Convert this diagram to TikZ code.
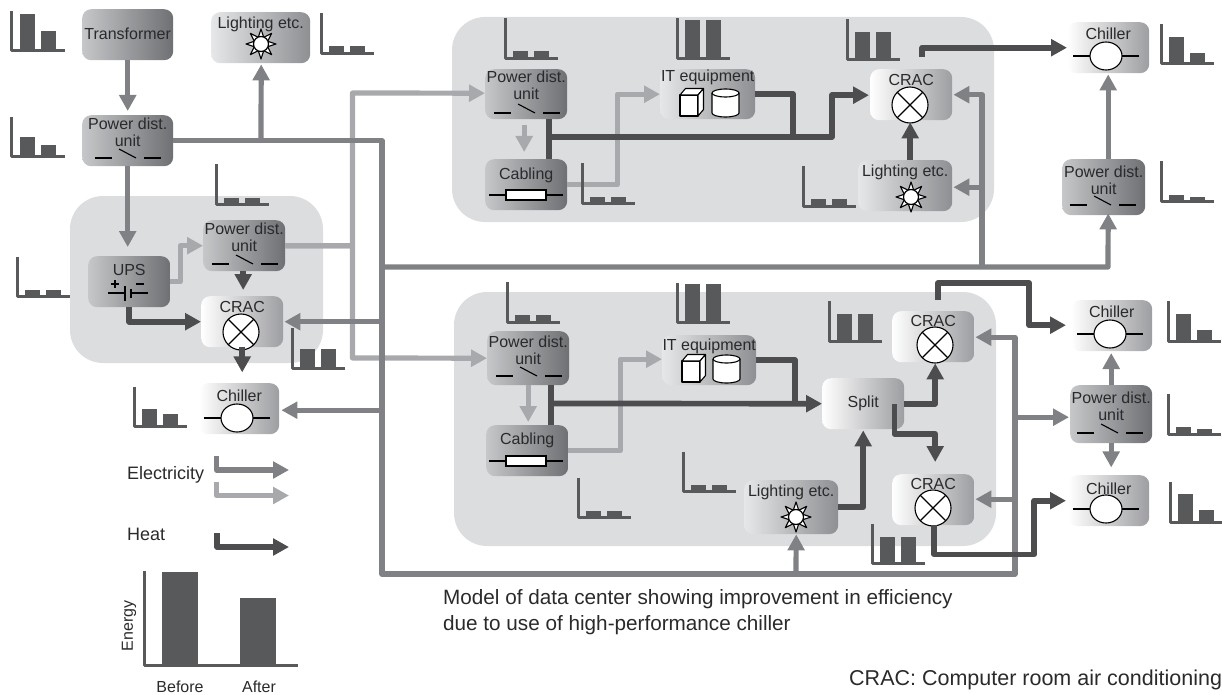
\documentclass[tikz,border=0pt]{standalone}
\usepackage{fontspec}
\setmainfont{Liberation Sans}
\usetikzlibrary{arrows.meta,calc,shapes.geometric}
\definecolor{elecc}{HTML}{808184}
\definecolor{lightc}{HTML}{A7A9AC}
\definecolor{heatc}{HTML}{4D4D4F}
\definecolor{barc}{HTML}{58595B}
\definecolor{groupc}{HTML}{DCDDDE}
\definecolor{txtc}{HTML}{2A2A2C}
\definecolor{dkL}{HTML}{C6C7C9}
\definecolor{dkR}{HTML}{6F7073}
\definecolor{whR}{HTML}{9D9EA1}
\definecolor{ltL}{HTML}{E6E7E8}
\definecolor{ltR}{HTML}{8E8F92}
\tikzset{
  tipp/.tip={Triangle[width=16.5pt,length=16pt]},
  wire/.style={line join=round},
  elec/.style={wire,line width=5.2pt,draw=elecc,-tipp},
  lite/.style={wire,line width=5.2pt,draw=lightc,-tipp},
  heat/.style={wire,line width=5.7pt,draw=heatc,-tipp},
  heatplain/.style={wire,line width=5.7pt,draw=heatc},
  grp/.style={fill=groupc,rounded corners=33pt},
  boxx/.style={rectangle,rounded corners=9pt,inner sep=0pt,anchor=north west,draw=none},
  dk/.style={boxx,left color=dkL,right color=dkR},
  wh/.style={boxx,left color=white,right color=whR},
  lt/.style={boxx,left color=ltL,right color=ltR},
  lbl/.style={inner sep=0pt,text=txtc,align=center,font=\fontsize{16}{17}\selectfont},
  bigl/.style={inner sep=0pt,text=txtc,anchor=west,font=\fontsize{18}{20}\selectfont},
  capl/.style={inner sep=0pt,text=txtc,anchor=west,font=\fontsize{20.7}{26}\selectfont},
  capm/.style={inner sep=0pt,text=txtc,anchor=west,font=\fontsize{21.5}{26}\selectfont},
  sym/.style={draw=black,line width=1.1pt},
}
\newcommand{\bxx}[7]{% name style x y w h
  \node[#2,minimum width=#5pt,minimum height=#6pt] (#1) at (#3,#4) {};
  \node[lbl] (#1-t) at ($(#1.north)+(0,#7)$)}
\newcommand{\swt}[2]{%
  \draw[sym] (#1,#2)--++(17,0);
  \draw[sym] (#1+24,#2-9)--(#1+41,#2);
  \draw[sym] (#1+49,#2)--++(17,0);}
\newcommand{\crosc}[2]{%
  \begin{scope}[shift={(#1,#2)}]
  \draw[sym,fill=white] (0,0) circle (18pt);
  \draw[sym] (-12.7,-12.7)--(12.7,12.7) (-12.7,12.7)--(12.7,-12.7);
  \end{scope}}
\newcommand{\chsym}[2]{%
  \begin{scope}[shift={(#1,#2)}]
  \draw[sym] (-33,0)--(33,0);
  \draw[sym,fill=white] (0,0) ellipse [x radius=16pt,y radius=14pt];
  \end{scope}}
\newcommand{\sunn}[2]{%
  \begin{scope}[shift={(#1,#2)}]
  \foreach \a in {0,45,...,315}{
    \draw[draw=black,line width=1.1pt,fill=white,line join=round] (\a-24:7) .. controls (\a-12:11) .. (\a:15) .. controls (\a+12:11) .. (\a+24:7) -- cycle;}
  \draw[draw=black,line width=1.2pt,fill=white] (0,0) circle (7.5pt);
  \end{scope}}
\newcommand{\cubee}[2]{%
  \begin{scope}[shift={(#1,#2)}]
  \draw[sym,fill=white,line join=round] (0,0) rectangle (18,21);
  \draw[sym,fill=white,line join=round] (0,0)--(5.5,-6.5)--(23.5,-6.5)--(18,0)--cycle;
  \draw[sym,fill=white,line join=round] (18,0)--(23.5,-6.5)--(23.5,14.5)--(18,21)--cycle;
  \end{scope}}
\newcommand{\cyll}[2]{%
  \begin{scope}[shift={(#1,#2)}]
  \draw[sym,fill=white] (0,4) -- (0,24) arc[start angle=180,end angle=360,x radius=13.5pt,y radius=4pt] -- (27,4) arc[start angle=0,end angle=180,x radius=13.5pt,y radius=4pt];
  \draw[sym] (0,4) arc[start angle=180,end angle=360,x radius=13.5pt,y radius=4pt];
  \end{scope}}
\newcommand{\resi}[2]{%
  \draw[sym] (#1,#2)--++(74,0);
  \draw[sym,fill=white] (#1+17,#2-5) rectangle (#1+57,#2+5);}
\newcommand{\chrt}[4]{% x ybase h1 h2
  \begin{scope}[shift={(#1,#2)}]
  \fill[barc] (8,0) rectangle (23,-#3);
  \fill[barc] (29,0) rectangle (44,-#4);
  \draw[barc,line width=3pt,line join=round] (0,-40)--(0,0)--(53,0);
  \end{scope}}
\begin{document}
\begin{tikzpicture}[x=1pt,y=-1pt]
\useasboundingbox (0,0) rectangle (1222,695);
% rooms
\path[grp] (70,196) rectangle (323,363);
\path[grp] (452,17) rectangle (994,222);
\path[grp] (454,292) rectangle (996,546);

% boxes
\bxx{xf}{dk}{82}{9}{91}{51}{25} {Transformer};
\bxx{lt1}{lt}{211}{12}{99}{51}{12} {Lighting etc.};
\bxx{pdu1}{dk}{82}{115}{91}{51}{17.5} {Power dist.\\unit};
\bxx{pduL}{dk}{203}{220}{82}{51}{17.5} {Power dist.\\unit};
\bxx{ups}{dk}{88}{256}{82}{51}{14} {UPS};
\bxx{crL}{wh}{201}{296}{82}{51}{11} {CRAC};
\bxx{chL}{wh}{199}{383}{80}{51}{13} {Chiller};
\bxx{pduT}{dk}{485}{69}{82}{50}{16} {Power dist.\\unit};
\bxx{cabT}{dk}{485}{159}{82}{51}{16} {Cabling};
\bxx{itT}{lt}{660}{69}{95}{50}{8} {IT equipment};
\bxx{crT}{wh}{870}{69}{82}{51}{11} {CRAC};
\bxx{ltT}{lt}{858}{160}{94}{51}{12} {Lighting etc.};
\bxx{chR}{wh}{1067}{22}{82}{51}{12} {Chiller};
\bxx{pduR}{dk}{1062}{159}{83}{56}{21} {Power dist.\\unit};
\bxx{pdB}{dk}{487}{331}{82}{54}{19.5} {Power dist.\\unit};
\bxx{cabB}{dk}{486}{425}{82}{51}{15} {Cabling};
\bxx{itB}{lt}{662}{335}{94}{50}{11} {IT equipment};
\bxx{ltB}{lt}{744}{480}{94}{54}{12} {Lighting etc.};
\bxx{spl}{wh}{822}{378}{82}{51}{25.5} {Split};
\bxx{crB1}{wh}{892}{311}{82}{51}{10} {CRAC};
\bxx{crB2}{wh}{892}{474}{82}{51}{10} {CRAC};
\bxx{chB1}{wh}{1071}{300}{81}{51}{12} {Chiller};
\bxx{pduB}{dk}{1070}{385}{82}{58}{21} {Power dist.\\unit};
\bxx{chB2}{wh}{1068}{475}{81}{51}{14} {Chiller};

% symbols
\swt{95}{158}\swt{212}{264}\swt{494}{113}\swt{496}{376}\swt{1070}{205}\swt{1077}{433}
\sunn{261}{44}\sunn{911}{197}\sunn{796}{517}
\crosc{241}{332}\crosc{910}{105}\crosc{935}{345}\crosc{933}{508}
\chsym{237}{418}\chsym{1106}{56}\chsym{1110}{334}\chsym{1106}{509}
\resi{489}{195}\resi{489}{461}
\cubee{680}{95}\cubee{682}{361}
\cyll{712}{89}\cyll{713}{355}
% UPS symbol
\draw[sym] (108,293)--(125,293) (125,286)--(125,301);
\draw[sym] (131,293)--(148,293);
\draw[sym,line width=1.6pt] (131,288.5)--(131,298);
\draw[sym] (111,284)--(119,284) (115,280)--(115,288) (136,284)--(144,284);

% routing points
\coordinate (trunk) at (382,140.5);
\coordinate (trunkB) at (382,574);
\coordinate (loopR) at (1015,574);
\coordinate (hbus) at (382,267);
\coordinate (hbusR) at (982,267);
\coordinate (hbusE) at (1108,267);
\coordinate (ltap) at (261,140.5);
\coordinate (btap) at (796,574);
\coordinate (lbusT) at (352.5,93);
\coordinate (lbusB) at (352.5,358);
\coordinate (heatT) at (549,137);
\coordinate (heatTR) at (832,137);
\coordinate (heatTM) at (793,137);
\coordinate (heatB) at (551,403.5);
\coordinate (heatBM) at (795,403.5);

% light electricity
\draw[lite] (pduL.east) -| (lbusT) -- ($(pduT.west)+(0,-1)$);
\draw[lite] (pduL.east) -| (lbusB) -- (pdB.west);
\draw[lite] (ups.east) -- ++(10,0) |- (pduL.west);
\draw[lite] ($(pduT.south)+(-2,6)$) -- ($(cabT.north)+(-2,-7)$);
\draw[lite] (cabT.east) -- ++(50,0) |- (itT.west);
\draw[lite] ($(pdB.south)+(0,0)$) -- ($(cabB.north)+(1,-3)$);
\draw[lite] (cabB.east) -- ++(52,0) |- ($(itB.west)+(0,-1)$);

% dark electricity
\draw[elec] (xf.south) -- ($(pdu1.north)+(0,-4)$);
\draw[elec] (pdu1.south) -- ($(ups.north)+(-1.5,-9)$);
\draw[elec] (pdu1.east) -| (trunkB) -- (loopR) |- ($(crB1.east)+(1,0.5)$);
\draw[elec] (ltap) -- ($(lt1.south)+(0.5,1)$);
\draw[elec] (trunk) |- ($(crL.east)+(1,0)$);
\draw[elec] (trunk) |- ($(chL.east)+(2,1.5)$);
\draw[elec] (hbus) -- (hbusE) -- ($(pduR.south)+(4.5,-2)$);
\draw[elec] (hbusR) |- ($(crT.east)+(1,0)$);
\draw[elec] (hbusR) |- ($(ltT.east)+(1,1.5)$);
\draw[elec] ($(pduR.north)+(4.5,0)$) -- ($(chR.south)+(0,1)$);
\draw[elec] (btap) -- ($(ltB.south)+(5,0)$);
\draw[elec] (loopR) |- ($(crB2.east)+(1,-0.5)$);
\draw[elec] (loopR) |- ($(pduB.west)+(-1,3)$);
\draw[elec] (pduB.north) -- ++(0,-32);
\draw[elec] (pduB.south) -- ++(0,24);

% heat
\draw[heatplain] ($(pduT.south)+(23,0)$) -- ($(cabT.north)+(23,0)$);
\draw[heat] (heatT) -- (heatTR) |- ($(crT.west)+(-1,0.5)$);
\draw[heatplain] (itT.east) -| (heatTM);
\draw[heat] ($(ltT.north)+(5,0)$) -- ($(crT.south)+(-1,2)$);
\draw[heat] ($(crT.north)+(11,-12)$) |- (chR.west);
\draw[heatplain] ($(pdB.south)+(23,0)$) -- ($(cabB.north)+(24,0)$);
\draw[heat] (heatB) -- (spl.west);
\draw[heatplain] (itB.east) -| (heatBM);
\draw[heat] (ltB.east) -| ($(spl.south)+(0,1)$);
\draw[heat] (spl.east) -| ($(crB1.south)+(2,1)$);
\draw[heat] ($(spl.east)+(-10,0)$) -- ++(0,30) -| ($(crB2.north)+(2,-12)$);
\draw[heat] ($(crB1.north)+(5,-11)$) -- ++(0,-17) -- ++(91,0) |- ($(chB1.west)+(-5,-0.5)$);
\draw[heat] ($(crB2.south)+(1,0)$) -- ++(0,29) -- ++(100,0) |- ($(chB2.west)+(-2,0)$);
\draw[heat] (ups.south) |- (crL.west);
\draw[heat] ($(pduL.south)+(-1,0)$) -- ($(crL.north)+(1,-6)$);
\draw[heat] (crL.south) -- ++(0,25);

% small charts
\chrt{11.5}{51}{37}{20}
\chrt{11.5}{157}{20}{12}
\chrt{321}{53.5}{7}{7}
\chrt{216}{204.5}{7}{7}
\chrt{17}{296.5}{7}{7}
\chrt{292}{368}{19}{19}
\chrt{134}{426.5}{18}{13}
\chrt{505}{58.5}{7}{7}
\chrt{677}{58.5}{38}{38}
\chrt{847}{59.5}{27}{27}
\chrt{582}{203.5}{7}{7}
\chrt{803}{206}{7}{7}
\chrt{1161}{64}{27}{11}
\chrt{1161}{201}{6}{4}
\chrt{507}{322}{7}{7}
\chrt{677}{322.5}{39}{39}
\chrt{829}{341}{27}{27}
\chrt{578}{517.5}{7}{7}
\chrt{683}{491.5}{7}{7}
\chrt{872}{563.5}{27}{27}
\chrt{1168}{341}{27}{11}
\chrt{1168}{434}{7}{5}
\chrt{1170}{522}{28}{12}

% legend
\node[bigl] (lgE) at (127,475) {Electricity};
\node[bigl] (lgH) at (127,534) {Heat};
\coordinate (a1s) at (216.5,456); \coordinate (a1e) at (289,470);
\coordinate (a2s) at (216.5,482); \coordinate (a2e) at (289,495.5);
\coordinate (a3s) at (217,533);   \coordinate (a3e) at (289,547);
\draw[elec] (a1s) |- (a1e);
\draw[lite] (a2s) |- (a2e);
\draw[heat] (a3s) |- (a3e);
\fill[barc] (162,572) rectangle (198,665);
\fill[barc] (240,598) rectangle (276,665);
\draw[barc,line width=3pt,line join=round] (144,571)--(144,665)--(298,665);
\node[lbl,rotate=90] (lgY) at (129,626) {Energy};
\node[lbl] (lgB) at (180,687) {Before};
\node[lbl] (lgA) at (259,687) {After};

% captions
\node[capl,align=left] (cap) at (443,612) {Model of data center showing improvement in efficiency\\due to use of high-performance chiller};
\node[capm] (crn) at (849,680) {CRAC: Computer room air conditioning};
\end{tikzpicture}
\end{document}
